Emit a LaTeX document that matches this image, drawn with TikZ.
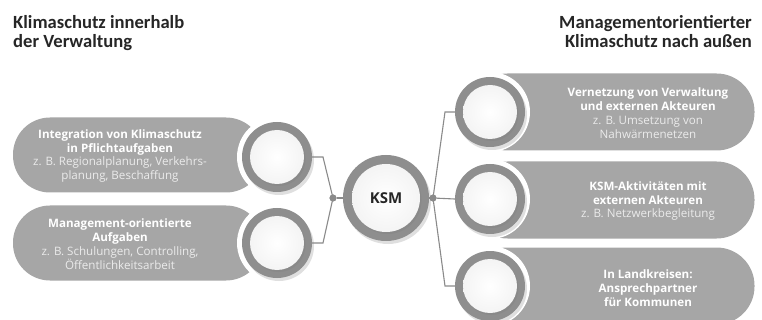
\documentclass[tikz,border=0pt]{standalone}
\usepackage{fontspec}
\setmainfont{Open Sans}
\newfontfamily\titlefont{Carlito}
\usetikzlibrary{shadows}
\definecolor{pillgray}{HTML}{A6A6A6}
\definecolor{ringgray}{HTML}{8E8E8E}
\definecolor{innerwhite}{HTML}{F4F4F4}
\definecolor{linegray}{HTML}{8A8A8A}
\definecolor{subtext}{HTML}{EBEBEB}
\definecolor{titlecol}{HTML}{262626}
\begin{document}
\begin{tikzpicture}[x=1pt,y=-1pt,
  pill/.style={fill=pillgray, rounded corners=37pt, minimum height=75pt, inner sep=0pt},
  halo/.style={circle, fill=white, minimum size=80pt, inner sep=0pt},
  ring/.style={circle, fill=ringgray, minimum size=70pt, inner sep=0pt,
    drop shadow={opacity=0.25, shadow xshift=2pt, shadow yshift=-3pt}},
  bigring/.style={ring, minimum size=86pt},
  core/.style={circle, inner sep=0pt, minimum size=54pt, inner color=white, outer color=innerwhite,
    drop shadow={opacity=0.35, shadow xshift=1.5pt, shadow yshift=-2pt}},
  bigcore/.style={core, minimum size=68pt},
  conn/.style={draw=linegray, line width=1.1pt},
  jdot/.style={circle, fill=linegray, minimum size=7pt, inner sep=0pt},
  pilltext/.style={align=center, text=white, font=\fontsize{11.6}{13.8}\selectfont, inner sep=0pt},
  titletext/.style={font=\titlefont\bfseries\fontsize{18.6}{19}\selectfont, text=titlecol, inner sep=0pt}
]
\useasboundingbox (0,0) rectangle (762,320);

% titles
\node[titletext, anchor=north west, align=left] (tl) at (13,15) {Klimaschutz innerhalb\\der Verwaltung};
\node[titletext, anchor=north east, align=right] (tr) at (752,15) {Managementorientierter\\Klimaschutz nach außen};

% pills
\node[pill, minimum width=250pt] (pl1) at (138,155) {};
\node[pill, minimum width=250pt] (pl2) at (138,243) {};
\node[pill, minimum width=285pt, minimum height=77pt, rounded corners=38pt] (pr1) at (612,112) {};
\node[pill, minimum width=285pt, minimum height=77pt, rounded corners=38pt] (pr2) at (612,200) {};
\node[pill, minimum width=285pt, minimum height=77pt, rounded corners=38pt] (pr3) at (612,286) {};

% pill texts
\node[pilltext] (tl1) at (120,156) {\bfseries Integration von Klimaschutz\\\bfseries in Pflichtaufgaben\\\color{subtext}z. B. Regionalplanung, Verkehrs-\\\color{subtext}planung, Beschaffung};
\node[pilltext] (tl2) at (120,244) {\bfseries Management-orientierte\\\bfseries Aufgaben\\\color{subtext}z. B. Schulungen, Controlling,\\\color{subtext}Öffentlichkeitsarbeit};
\node[pilltext] (tr1) at (648,113) {\bfseries Vernetzung von Verwaltung\\\bfseries und externen Akteuren\\\color{subtext}z. B. Umsetzung von\\\color{subtext}Nahwärmenetzen};
\node[pilltext] (tr2) at (648,201) {\bfseries KSM-Aktivitäten mit\\\bfseries externen Akteuren\\\color{subtext}z. B. Netzwerkbegleitung};
\node[pilltext] (tr3) at (648,288) {\bfseries In Landkreisen:\\\bfseries Ansprechpartner\\\bfseries für Kommunen};

% halos
\node[halo] (hl1) at (277,157) {};
\node[halo] (hl2) at (277,243) {};
\node[halo] (hr1) at (490,112) {};
\node[halo] (hr2) at (490,199) {};
\node[halo] (hr3) at (490,286) {};

% junction dots and bends
\node[jdot] (dl) at (333,198) {};
\node[jdot] (dr) at (433,198) {};
\coordinate (bl1) at (323,157);
\coordinate (bl2) at (323,243);
\coordinate (br1) at (445,112);
\coordinate (br3) at (445,286);

% rings
\node[ring] (cl1) at (277,157) {};
\node[ring] (cl2) at (277,243) {};
\node[bigring] (ksm) at (386,198) {};
\node[ring] (cr1) at (490,112) {};
\node[ring] (cr2) at (490,199) {};
\node[ring] (cr3) at (490,286) {};

% connectors
\draw[conn] (cl1.east) -- (bl1) -- (dl.center) -- (bl2) -- (cl2.east);
\draw[conn] (dl) -- (ksm.west);
\draw[conn] (ksm.east) -- (dr);
\draw[conn] (dr.center) -- (br1) -- (cr1.west);
\draw[conn] (dr) -- (cr2.west);
\draw[conn] (dr.center) -- (br3) -- (cr3.west);
\node[jdot] at (dl) {};
\node[jdot] at (dr) {};

% cores
\node[core] (il1) at (cl1) {};
\node[core] (il2) at (cl2) {};
\node[bigcore, font=\bfseries\fontsize{15}{15}\selectfont, text=titlecol] (iksm) at (ksm) {KSM};
\node[core] (ir1) at (cr1) {};
\node[core] (ir2) at (cr2) {};
\node[core] (ir3) at (cr3) {};
\end{tikzpicture}
\end{document}
